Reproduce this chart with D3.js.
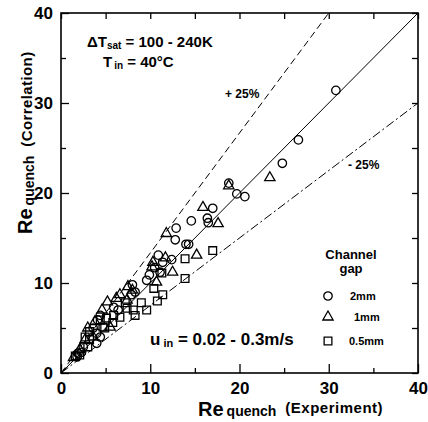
<!DOCTYPE html>
<html>
<head>
<meta charset="utf-8">
<script src="https://cdn.jsdelivr.net/npm/d3@7"></script>
<style>
  body { margin: 0; background: #fff; }
  svg text { font-family: "Liberation Sans", Arial, sans-serif; font-weight: bold; fill: #000; }
</style>
</head>
<body>
<div id="chart"></div>
<script>
// axis ticks
var majorTicks = [0, 10, 20, 30, 40];
var minorTicks = [5, 15, 25, 35];

// [Re experiment, Re correlation] per channel gap
var gap2mm = [[30.8,31.4],[26.6,25.9],[24.8,23.3],[18.8,21.1],[19.7,19.9],[20.6,19.6],[17.0,18.3],
  [16.4,17.2],[16.5,16.7],[14.6,16.9],[12.9,16.1],[12.8,14.8],[14.0,14.3],[14.3,14.3],[10.9,13.1],
  [11.4,12.3],[12.4,12.6],[10.5,11.7],[11.1,11.2],[9.9,10.9],[9.6,10.3],[8.0,9.8],[8.3,9.0],[7.9,8.7],
  [5.9,7.3],[6.4,7.0],[4.4,6.4],[4.1,5.9],[3.6,5.0],[4.0,4.4],[4.4,4.0],[4.0,3.3],[2.5,2.9],[2.3,2.3],
  [1.9,2.2],[1.8,1.8]];
var gap1mm = [[18.8,20.8],[23.4,21.7],[15.9,18.4],[17.6,16.6],[11.8,15.5],[11.7,12.8],[15.2,13.1],
  [10.3,12.3],[10.2,11.8],[12.5,11.2],[10.7,10.1],[7.5,9.6],[8.0,9.2],[6.6,8.7],[6.2,8.3],[7.4,8.1],
  [5.2,7.9],[4.6,7.0],[3.8,5.7],[3.0,5.0],[5.5,5.1],[3.6,4.0],[2.7,3.7],[2.1,2.6],[1.4,1.7]];
var gap05mm = [[17.0,13.6],[13.9,12.7],[11.3,11.1],[13.9,10.5],[10.4,9.4],[11.4,8.7],[10.8,8.0],
  [7.2,7.8],[7.4,7.2],[8.1,7.0],[9.0,7.8],[9.6,7.0],[5.9,6.4],[6.6,6.2],[8.3,6.4],[5.1,6.1],[4.7,5.1],
  [5.8,5.6],[4.4,5.9],[4.9,5.0],[2.7,4.0],[3.2,4.6],[3.2,3.7],[3.0,2.9],[2.1,2.0],[1.6,1.9]];

// reference lines: ideal, +25 %, -25 %
var refLines = [
  {name: "ideal", pts: [[0,0],[40,40]]},
  {name: "plus", pts: [[0,0],[30,40]]},
  {name: "minus", pts: [[0,0],[40,30]]}
];

var W = 428, H = 422;
var svg = d3.select('#chart').append('svg').attr('width', W).attr('height', H);

var x = d3.scaleLinear().domain([0, 40]).range([61, 418]);
var y = d3.scaleLinear().domain([0, 40]).range([373, 13]);

// frame
svg.append('rect')
  .attr('x', x(0)).attr('y', y(40))
  .attr('width', x(40) - x(0)).attr('height', y(0) - y(40))
  .attr('fill', 'none').attr('stroke', '#000').attr('stroke-width', 1.6);

// axes: major with labels, minor without
function styleAxis(g) {
  g.select('.domain').remove();
  g.selectAll('line').attr('stroke', '#000').attr('stroke-width', 1.3);
  g.selectAll('text').attr('font-size', 17).attr('fill', '#000');
}
svg.append('g').attr('transform', 'translate(0,' + y(0) + ')')
  .call(d3.axisBottom(x).tickValues(majorTicks).tickSize(-9).tickPadding(9).tickFormat(d3.format('d')))
  .call(styleAxis);
svg.append('g').attr('transform', 'translate(0,' + y(0) + ')')
  .call(d3.axisBottom(x).tickValues(minorTicks).tickSize(-5).tickFormat(''))
  .call(styleAxis);
svg.append('g').attr('transform', 'translate(' + x(0) + ',0)')
  .call(d3.axisLeft(y).tickValues(majorTicks).tickSize(-8).tickPadding(8).tickFormat(d3.format('d')))
  .call(styleAxis);
svg.append('g').attr('transform', 'translate(' + x(0) + ',0)')
  .call(d3.axisLeft(y).tickValues(minorTicks).tickSize(-5).tickFormat(''))
  .call(styleAxis);
svg.append('g').attr('transform', 'translate(0,' + y(40) + ')')
  .call(d3.axisTop(x).tickValues(majorTicks.concat(minorTicks)).tickSize(-6).tickFormat(''))
  .call(styleAxis);
svg.append('g').attr('transform', 'translate(' + x(40) + ',0)')
  .call(d3.axisRight(y).tickValues(majorTicks.concat(minorTicks)).tickSize(-6).tickFormat(''))
  .call(styleAxis);

// reference lines
var line = d3.line().x(function(d) { return x(d[0]); }).y(function(d) { return y(d[1]); });
var dash = {ideal: null, plus: '7,4', minus: '9,3,2,3'};
svg.selectAll('path.ref')
  .data(refLines)
  .enter()
  .append('path')
  .attr('class', 'ref')
  .attr('d', function(d) { return line(d.pts); })
  .attr('fill', 'none')
  .attr('stroke', '#000')
  .attr('stroke-width', 1)
  .attr('stroke-dasharray', function(d) { return dash[d.name]; });

// markers
var symCircle = d3.symbol().type(d3.symbolCircle).size(56);
var symTri = d3.symbol().type(d3.symbolTriangle).size(46);
var symSquare = d3.symbol().type(d3.symbolSquare).size(60);

function drawPoints(data, sym, cls) {
  svg.selectAll('path.' + cls)
    .data(data)
    .enter()
    .append('path')
    .attr('class', cls)
    .attr('d', sym)
    .attr('transform', function(d) { return 'translate(' + x(d[0]) + ',' + y(d[1]) + ')'; })
    .attr('fill', 'none')
    .attr('stroke', '#000')
    .attr('stroke-width', 1.3);
}
drawPoints(gap05mm, symSquare, 'sq');
drawPoints(gap1mm, symTri, 'tri');
drawPoints(gap2mm, symCircle, 'cir');

// axis titles
var xt = svg.append('text').attr('x', 198).attr('y', 416);
xt.append('tspan').attr('font-size', 20).text('Re');
xt.append('tspan').attr('font-size', 14).attr('dx', 3).attr('dy', 0).text('quench');
xt.append('tspan').attr('font-size', 15).attr('dx', 9).attr('dy', -3).attr('letter-spacing', 0.5).text('(Experiment)');

var yt = svg.append('text').attr('transform', 'translate(32,234) rotate(-90)');
yt.append('tspan').attr('font-size', 20).text('Re');
yt.append('tspan').attr('font-size', 14).attr('dx', 3).attr('dy', 2).text('quench');
yt.append('tspan').attr('font-size', 15).attr('dx', 9).attr('dy', -2).attr('letter-spacing', 0.4).text('(Correlation)');

// annotations
var a1 = svg.append('text').attr('x', 87).attr('y', 47).attr('font-size', 15);
a1.append('tspan').text('ΔT');
a1.append('tspan').attr('font-size', 10).attr('dy', 2).text('sat');
a1.append('tspan').attr('dy', -2).text(' = 100 - 240K');

var a2 = svg.append('text').attr('x', 103).attr('y', 67).attr('font-size', 15);
a2.append('tspan').text('T');
a2.append('tspan').attr('font-size', 10).attr('dy', 2).attr('dx', 2).text('in');
a2.append('tspan').attr('dy', -2).text(' = 40°C');

svg.append('text').attr('x', 225).attr('y', 98).attr('font-size', 12).text('+ 25%');
svg.append('text').attr('x', 348).attr('y', 169).attr('font-size', 12).text('- 25%');

var a3 = svg.append('text').attr('x', 150).attr('y', 345).attr('font-size', 17);
a3.append('tspan').text('u');
a3.append('tspan').attr('font-size', 11).attr('dx', 3).attr('dy', 2).text('in');
a3.append('tspan').attr('dy', -2).text(' = 0.02 - 0.3m/s');

// legend
svg.append('text').attr('x', 351).attr('y', 259).attr('font-size', 13).attr('text-anchor', 'middle').text('Channel');
svg.append('text').attr('x', 351).attr('y', 273).attr('font-size', 13).attr('text-anchor', 'middle').text('gap');
var legendItems = [
  {sym: symCircle, label: '2mm', ly: 296, lx: 350},
  {sym: symTri, label: '1mm', ly: 317, lx: 354},
  {sym: symSquare, label: '0.5mm', ly: 341, lx: 349}
];
legendItems.forEach(function(d) {
  svg.append('path').attr('d', d.sym)
    .attr('transform', 'translate(328,' + d.ly + ')')
    .attr('fill', 'none').attr('stroke', '#000').attr('stroke-width', 1.3);
  svg.append('text').attr('x', d.lx).attr('y', d.ly + 4).attr('font-size', 11).text(d.label);
});
</script>
</body>
</html>
